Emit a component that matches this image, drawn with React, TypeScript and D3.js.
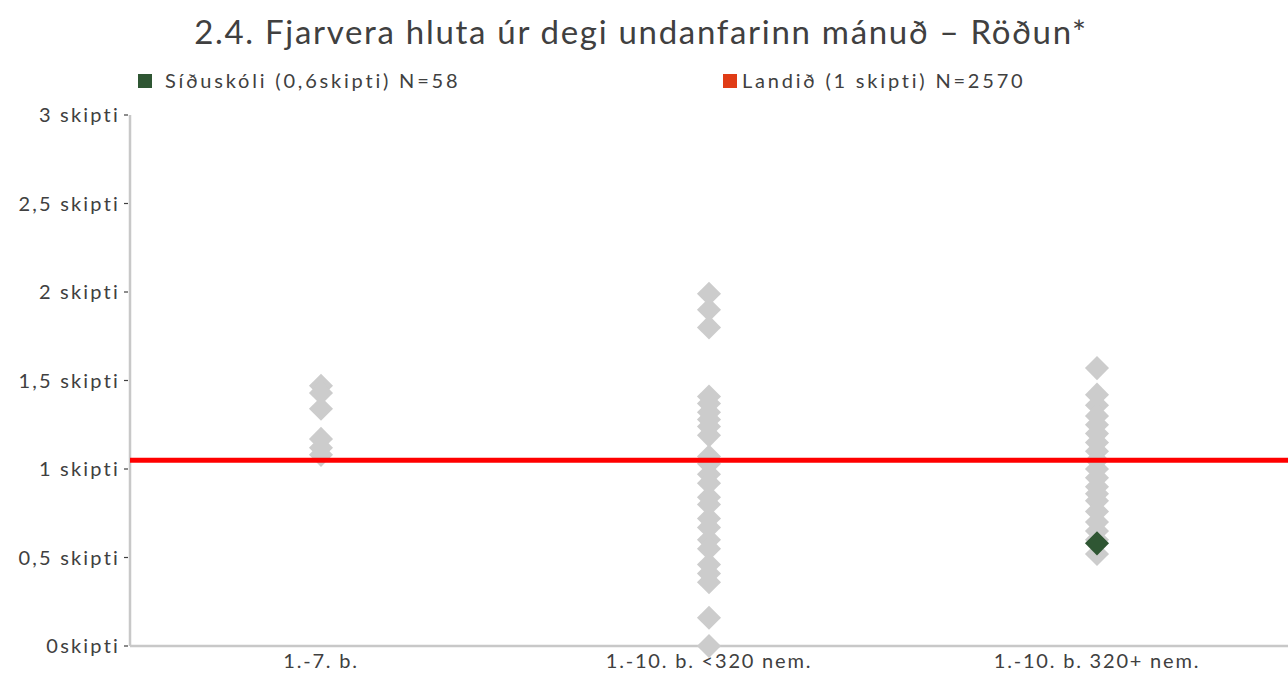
import * as d3 from "d3";

const categories = ["1.-7. b.", "1.-10. b. <320 nem.", "1.-10. b. 320+ nem."];

const seven = [1.47, 1.43, 1.34, 1.17, 1.12, 1.08];
const small = [
  1.99, 1.9, 1.8, 1.41, 1.37, 1.32, 1.28, 1.24, 1.19, 1.07, 1.03, 0.97, 0.92, 0.84, 0.8, 0.72, 0.67, 0.6,
  0.55, 0.46, 0.41, 0.36, 0.16, 0.0,
];
const large = [
  1.57, 1.42, 1.36, 1.3, 1.25, 1.2, 1.15, 1.1, 1.05, 1.0, 0.95, 0.9, 0.86, 0.82, 0.76, 0.7, 0.65, 0.6, 0.52,
];
const schoolValue = 0.58;
const schoolCategory = categories[2];
const nationalValue = 1.05;

const yTicks = [0, 0.5, 1, 1.5, 2, 2.5, 3];
const yTickLabels = ["0skipti", "0,5 skipti", "1 skipti", "1,5 skipti", "2 skipti", "2,5 skipti", "3 skipti"];

const title = "2.4. Fjarvera hluta úr degi undanfarinn mánuð – Röðun*";
const legendSchool = "Síðuskóli (0,6skipti) N=58";
const legendNational = "Landið (1 skipti) N=2570";

const series = [seven, small, large];

const font = "Lato, 'Noto Sans', sans-serif";
const textColor = "#404040";
const gray = "#cccccc";
const green = "#2f5633";
const red = "#ff0000";

export default function App() {
  const width = 1288;
  const height = 675;
  const x = d3.scaleBand().domain(categories).range([130, 1294]);
  const y = d3.scaleLinear().domain([0, 3]).range([646, 115]);
  const diamond = d3.symbol().type(d3.symbolSquare).size(290)()!;
  const cx = (c: string) => x(c)! + x.bandwidth() / 2 - 3;

  return (
    <svg
      width={width}
      height={height}
      style={{ position: "absolute", left: 0, top: 0, fontFamily: font }}
    >
      <rect width={width} height={height} fill="#fff" />
      <text x={641} y={44} textAnchor="middle" fontSize={33} fill={textColor} letterSpacing={1.7}>
        {title}
      </text>

      <rect x={138} y={74} width={14} height={14} fill={green} />
      <text x={165} y={88} fontSize={20} fill={textColor} letterSpacing={2.8}>
        {legendSchool}
      </text>
      <rect x={723} y={74} width={14} height={14} fill="#e03c16" />
      <text x={742} y={88} fontSize={20} fill={textColor} letterSpacing={2.8}>
        {legendNational}
      </text>

      {/* axes */}
      <line x1={130} x2={130} y1={y(3)} y2={y(0)} stroke="#c8c8c8" strokeWidth={2.5} />
      <line x1={130} x2={width} y1={y(0)} y2={y(0)} stroke="#c8c8c8" strokeWidth={2.5} />
      {yTicks.map((t, i) => (
        <g key={t} transform={`translate(0,${y(t)})`}>
          <line x1={124} x2={128} stroke={textColor} strokeWidth={1.2} />
          <text x={120} dy="0.35em" textAnchor="end" fontSize={20} fill={textColor} letterSpacing={2.2}>
            {yTickLabels[i]}
          </text>
        </g>
      ))}
      {categories.map((c) => (
        <text key={c} x={cx(c)} y={668} textAnchor="middle" fontSize={20} fill={textColor} letterSpacing={1.8}>
          {c}
        </text>
      ))}

      {/* points */}
      {series.map((vals, si) =>
        vals.map((v, i) => (
          <path
            key={`${si}-${i}`}
            d={diamond}
            transform={`translate(${cx(categories[si])},${y(v)}) rotate(45)`}
            fill={gray}
          />
        ))
      )}
      <path d={diamond} transform={`translate(${cx(schoolCategory)},${y(schoolValue)}) rotate(45)`} fill={green} />

      <line x1={130} x2={width} y1={y(nationalValue)} y2={y(nationalValue)} stroke={red} strokeWidth={5} />
    </svg>
  );
}
